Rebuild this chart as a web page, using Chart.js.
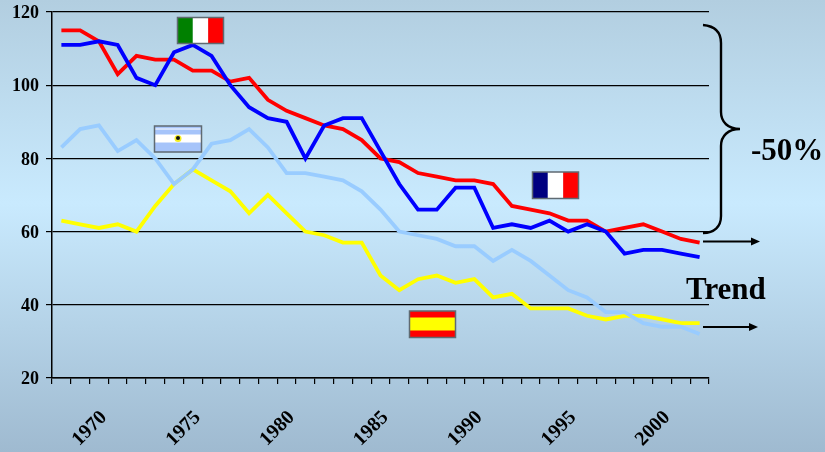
<!DOCTYPE html>
<html><head><meta charset="utf-8">
<style>
html,body{margin:0;padding:0;width:825px;height:452px;overflow:hidden;
background:linear-gradient(180deg,#b2cee0 0%,#c9eafe 45%,#9fbad0 100%);}
#wrap{position:absolute;left:0;top:0;width:825px;height:452px;}
</style>
<script src="https://cdn.jsdelivr.net/npm/chart.js@4"></script>
</head><body><div id="wrap"><canvas id="c" width="825" height="452"></canvas></div>
<script>
const years=[1968,1969,1970,1971,1972,1973,1974,1975,1976,1977,1978,1979,1980,1981,1982,1983,1984,1985,1986,1987,1988,1989,1990,1991,1992,1993,1994,1995,1996,1997,1998,1999,2000,2001,2002];
const italy=[115,115,112,103,108,107,107,104,104,101,102,96,93,91,89,88,85,80,79,76,75,74,74,73,67,66,65,63,63,60,61,62,60,58,57];
const france=[111,111,112,111,102,100,109,111,108,100,94,91,90,80,89,91,91,82,73,66,66,72,72,61,62,61,63,60,62,60,54,55,55,54,53];
const argentina=[83,88,89,82,85,80,73,77,84,85,88,83,76,76,75,74,71,66,60,59,58,56,56,52,55,52,48,44,42,38,38,35,34,34,32];
const spain=[63,62,61,62,60,67,73,77,74,71,65,70,65,60,59,57,57,48,44,47,48,46,47,42,43,39,39,39,37,36,37,37,36,35,35];
const labeledYears=[1970,1975,1980,1985,1990,1995,2000];

const SERIF='"Liberation Serif","Times New Roman",serif';

function rect(ctx,x,y,w,h,c){ctx.fillStyle=c;ctx.fillRect(x,y,w,h);}
function flagFrame(ctx,x,y,w,h){ctx.strokeStyle='#5f6a72';ctx.lineWidth=1.5;ctx.strokeRect(x,y,w,h);}
function flagV(ctx,x,y,w,h,cols){cols.forEach((c,i)=>rect(ctx,x+i*w/3,y,w/3,h,c));flagFrame(ctx,x,y,w,h);}
function arrow(ctx,x1,x2,y){
  ctx.strokeStyle='#000';ctx.lineWidth=2;ctx.beginPath();ctx.moveTo(x1,y);ctx.lineTo(x2-6,y);ctx.stroke();
  ctx.fillStyle='#000';ctx.beginPath();ctx.moveTo(x2,y);ctx.lineTo(x2-9,y-4);ctx.lineTo(x2-9,y+4);ctx.closePath();ctx.fill();
}
const decor={id:'decor',afterDatasetsDraw(chart){
  const ctx=chart.ctx;ctx.save();
  flagV(ctx,177.5,17.5,46,26,['#008000','#ffffff','#ff0000']);
  flagV(ctx,532.5,172,46,26.5,['#000080','#ffffff','#ff0000']);
  // Spain
  rect(ctx,409.5,311,46,26.5,'#ff0000');rect(ctx,409.5,317.5,46,13,'#ffff00');flagFrame(ctx,409.5,311,46,26.5);
  // Argentina
  rect(ctx,154.5,126,47,26,'#a6c4fa');rect(ctx,154.5,134.5,47,8,'#ffffff');rect(ctx,154.5,128.5,47,1,'#ffffff');
  ctx.fillStyle='#f5ee20';ctx.beginPath();ctx.arc(178,138.5,3.5,0,Math.PI*2);ctx.fill();
  ctx.fillStyle='#111';ctx.beginPath();ctx.arc(178,138,2,0,Math.PI*2);ctx.fill();
  flagFrame(ctx,154.5,126,47,26);
  // brace
  ctx.strokeStyle='#000';ctx.lineWidth=2.4;ctx.beginPath();
  ctx.moveTo(703,25);ctx.bezierCurveTo(714,26,721,31,721,43);ctx.lineTo(721,112);
  ctx.bezierCurveTo(721,122,728,129,740,129);ctx.bezierCurveTo(728,129,721,136,721,146);
  ctx.lineTo(721,216);ctx.bezierCurveTo(721,227,714,233,703,233);ctx.stroke();
  arrow(ctx,703,760,241.5);arrow(ctx,703,758,327);
  ctx.fillStyle='#000';ctx.textAlign='left';ctx.textBaseline='alphabetic';
  ctx.font='bold 31px '+SERIF;ctx.fillText('-50%',751,160);
  ctx.font='bold 31px '+SERIF;ctx.fillText('Trend',686,299);
  ctx.restore();
}};
const ds=(label,data,color)=>({label,data,borderColor:color,backgroundColor:color,borderWidth:3.8,pointRadius:0,tension:0,fill:false,borderJoinStyle:'miter'});
new Chart(document.getElementById('c'),{
  type:'line',
  data:{labels:years,datasets:[
    ds('Spain',spain,'#ffff00'),
    ds('Argentina',argentina,'#99ccff'),
    ds('Italy',italy,'#ff0000'),
    ds('France',france,'#0000ff')
  ].map((d,i)=>({...d,order:3-i}))},
  plugins:[decor],
  options:{
    responsive:false,animation:false,
    layout:{padding:{top:12,right:116,left:0,bottom:0}},
    plugins:{legend:{display:false},title:{display:false},tooltip:{enabled:false}},
    scales:{
      x:{type:'category',offset:true,
        afterFit(s){s.height=74;s.paddingLeft=0;s.paddingRight=0;},
        border:{color:'#000',width:1.5},
        grid:{display:true,offset:true,drawOnChartArea:false,drawTicks:true,tickLength:6,color:'#000',lineWidth:1.2},
        ticks:{autoSkip:false,maxRotation:45,minRotation:45,padding:22,labelOffset:5,color:'#000',
          font:{family:SERIF,weight:'bold',size:20},
          callback(v){const y=this.getLabelForValue(v);return labeledYears.includes(y)?String(y):'';}}
      },
      y:{min:20,max:120,
        afterFit(s){s.width=52;s.paddingTop=0;s.paddingBottom=0;},
        border:{color:'#000',width:1.5},
        grid:{color:'#000',lineWidth:1.2,tickLength:6},
        ticks:{stepSize:20,padding:7,labelOffset:1.5,color:'#000',font:{family:SERIF,weight:'bold',size:18}}
      }
    }
  }
});
</script></body></html>
